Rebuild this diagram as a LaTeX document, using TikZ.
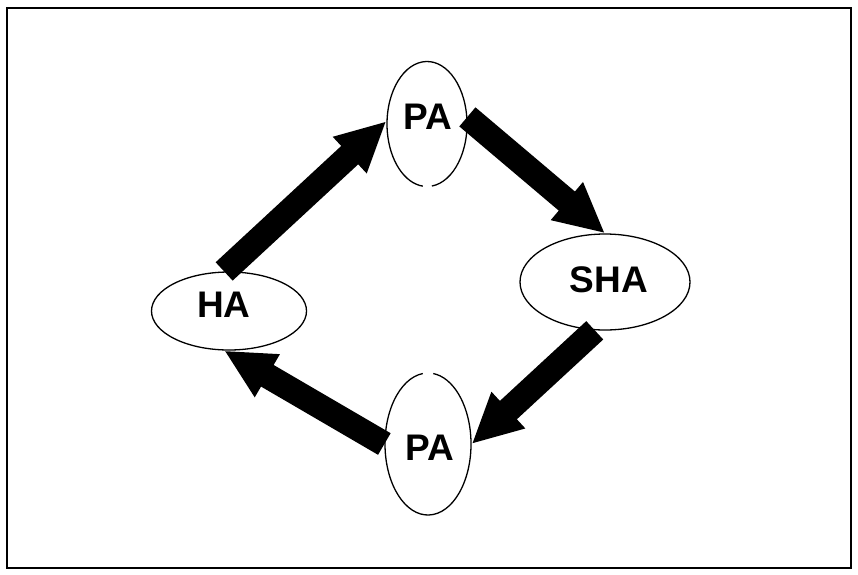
\documentclass[tikz,border=0pt]{standalone}
\usepackage{fontspec}
\setmainfont{Liberation Sans}
\usetikzlibrary{shapes.geometric,arrows.meta}

\tikzset{
  state/.style={ellipse, inner sep=0pt, line width=1.3pt},
  tag/.style={inner sep=0pt, font=\fontsize{37}{37}\selectfont\bfseries},
  flow/.style={line width=25pt, -{Triangle[width=46pt,length=50pt]}},
  frame/.style={line width=2.6pt}
}

\begin{document}
\begin{tikzpicture}[x=1pt, y=-1pt]
  \useasboundingbox (0,0) rectangle (858,574);
  \draw[frame] (7,8) rectangle (851,568);

  % the four states of the cycle
  \node[state, minimum width=80pt, minimum height=125pt] (pa1) at (427,124) {};
  \node[state, draw, minimum width=155pt, minimum height=78pt] (ha) at (229,311) {};
  \node[state, draw, minimum width=170pt, minimum height=96pt] (sha) at (605,282) {};
  \node[state, minimum width=86pt, minimum height=142pt] (pa2) at (428,444) {};

  % the two PA outlines are broken by a small gap
  \draw[line width=1.3pt] ([shift={(-83:40pt and 62.5pt)}]pa1.center)
    arc[start angle=-83, end angle=264, x radius=40pt, y radius=62.5pt];
  \draw[line width=1.3pt] ([shift={(97:43pt and 71pt)}]pa2.center)
    arc[start angle=97, end angle=443, x radius=43pt, y radius=71pt];

  % labels
  \node[tag] (tpa1) at ([shift={(1,-7)}]pa1.center) {PA};
  \node[tag] (tha) at ([shift={(-5,-6)}]ha.center) {HA};
  \node[tag] (tsha) at ([shift={(4,-2)}]sha.center) {SHA};
  \node[tag] (tpa2) at ([shift={(2,4)}]pa2.center) {PA};

  % block arrows around the cycle
  \draw[flow] (ha.97) -- (pa1.176);
  \draw[flow] (pa1.10) -- (sha.north);
  \draw[flow] (sha.258) -- (pa2.east);
  \draw[flow] (pa2.west) -- (ha.263);
\end{tikzpicture}
\end{document}
